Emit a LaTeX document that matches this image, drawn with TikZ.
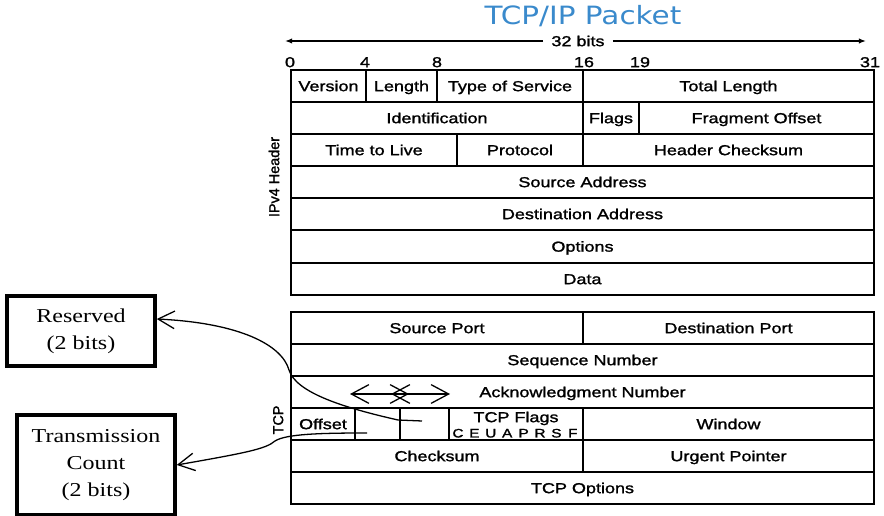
\documentclass[tikz,border=0pt]{standalone}
\usepackage{fontspec}
\usetikzlibrary{arrows.meta}
\newfontfamily\tabfont[FakeStretch=1.25,FakeBold=1.5]{Liberation Sans}
\newfontfamily\sidefont[FakeBold=1.5]{Liberation Sans}
\newfontfamily\titlefont[FakeStretch=1.17]{DejaVu Sans}
\newfontfamily\notefont[FakeStretch=1.22]{Liberation Serif}
\definecolor{titleblue}{RGB}{58,138,204}

\newcommand{\fld}[6]{\node[fld, minimum width={(#3-#2)*0.03cm}, minimum height={(#5-#4)*0.03cm}] (#1) at ({(#2+#3)/2},{(#4+#5)/2}) {#6};}

\begin{document}
\begin{tikzpicture}[x=0.03cm, y=-0.03cm,
    fld/.style={draw, line width=1.6pt, inner sep=0pt, outer sep=0pt, text height=8.8pt, text depth=0pt, font=\tabfont\fontsize{12.3}{14}\selectfont},
    bitno/.style={inner sep=0pt, text height=8.8pt, text depth=0pt, font=\tabfont\fontsize{12.3}{14}\selectfont},
    note/.style={draw, line width=3pt, inner sep=0pt, align=center, font=\notefont\fontsize{16.8}{23}\selectfont},
    span/.style={-{Latex[length=6pt,width=4.5pt]}, line width=1.1pt},
    barbs/.style={{Straight Barb[length=15pt,width=16pt]}-{Straight Barb[length=15pt,width=16pt]}, line width=1.1pt},
    curve/.style={-{Straight Barb[length=14pt,width=15pt]}, line width=1.1pt}]
    \useasboundingbox (0,0) rectangle (884,516);

    \node[anchor=base, font=\titlefont\fontsize{21.5}{24}\selectfont, text=titleblue] (title) at (583,25) {TCP/IP Packet};

    \node[bitno, inner xsep=7pt] (width) at (578,41) {32 bits};
    \coordinate (wl) at (285,41);
    \coordinate (wr) at (866,41);
    \draw[span] (width) -- (wl);
    \draw[span] (width) -- (wr);
    \foreach \b/\x in {0/290, 4/365, 8/437, 16/584, 19/640, 31/870}
        \node[bitno] (b\b) at (\x,62) {\b};

    \fld{ver}{291}{366}{70}{102}{Version}
    \fld{len}{366}{437}{70}{102}{Length}
    \fld{tos}{437}{583}{70}{102}{Type of Service}
    \fld{tot}{583}{874}{70}{102}{Total Length}
    \fld{ident}{291}{583}{102}{134}{Identification}
    \fld{flags}{583}{639}{102}{134}{Flags}
    \fld{frag}{639}{874}{102}{134}{Fragment Offset}
    \fld{ttl}{291}{457}{134}{166}{Time to Live}
    \fld{proto}{457}{583}{134}{166}{Protocol}
    \fld{hcs}{583}{874}{134}{166}{Header Checksum}
    \fld{srca}{291}{874}{166}{198}{Source Address}
    \fld{dsta}{291}{874}{198}{230}{Destination Address}
    \fld{opts}{291}{874}{230}{263}{Options}
    \fld{data}{291}{874}{263}{295}{Data}
    \node[bitno, rotate=90, font=\sidefont\fontsize{12.3}{14}\selectfont] (iphdr) at (274,177) {IPv4 Header};

    \fld{sport}{291}{583}{312}{344}{Source Port}
    \fld{dport}{583}{874}{312}{344}{Destination Port}
    \fld{seq}{291}{874}{344}{376}{Sequence Number}
    \fld{ack}{291}{874}{376}{408}{Acknowledgment Number}
    \fld{off}{291}{355}{408}{440}{Offset}
    \fld{tcbits}{355}{400}{408}{440}{}
    \fld{rsbits}{400}{449}{408}{440}{}
    \fld{flg}{449}{583}{408}{440}{}
    \fld{win}{583}{874}{408}{440}{Window}
    \fld{csum}{291}{583}{440}{472}{Checksum}
    \fld{urg}{583}{874}{440}{472}{Urgent Pointer}
    \fld{topt}{291}{874}{472}{504}{TCP Options}
    \node[bitno, rotate=90, font=\sidefont\fontsize{12.3}{14}\selectfont] (tcphdr) at (278,420) {TCP};

    \node[bitno] (flgname) at (516,417) {TCP Flags};
    \foreach \c [count=\i] in {C,E,U,A,P,R,S,F}
        \node[bitno, text height=7.6pt, font=\tabfont\fontsize{10.5}{12}\selectfont] (fc\i) at ({441.6+16.4*\i},433) {\c};

    \coordinate (a1) at (350,394);
    \coordinate (a2) at (409,394);
    \coordinate (a3) at (391,394);
    \coordinate (a4) at (450,394);
    \draw[barbs] (a1) -- (a2);
    \draw[barbs] (a3) -- (a4);

    \node[note, minimum width={148*0.03cm}, minimum height={70*0.03cm}] (res) at (81,331) {Reserved\\(2 bits)};
    \node[note, minimum width={158*0.03cm}, minimum height={100*0.03cm}] (tcnt) at (96,465) {Transmission\\Count\\(2 bits)};

    \coordinate (rsend) at (422,421);
    \coordinate (tcend) at (367,433);
    \draw[curve] (rsend) -- (398,420) .. controls (345,408) and (296,393) .. (289,370) .. controls (282,345) and (240,323) .. ([yshift=0.36cm]res.east);
    \draw[curve] (tcend) .. controls (320,433) and (286,434) .. (275,441) .. controls (266,449) and (245,453) .. (tcnt.east);
\end{tikzpicture}
\end{document}
